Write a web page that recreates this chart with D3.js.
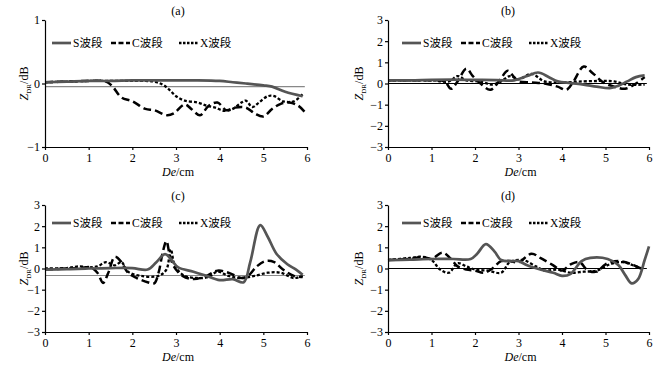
<html>
<head>
<meta charset="utf-8">
<script src="https://cdnjs.cloudflare.com/ajax/libs/d3/7.8.5/d3.min.js"></script>
<style>
body { margin: 0; background: #fff; }
text { font-family: "Liberation Serif", "Times New Roman", serif; fill: #000; }
.cjk { font-family: "Liberation Serif", "Noto Sans CJK SC", serif; }
</style>
</head>
<body>
<svg width="660" height="374"></svg>
<script>
// tick labels
var xTicks = [0, 1, 2, 3, 4, 5, 6];
var yTicksA = [-1, 0, 1];
var yTicksB = [-3, -2, -1, 0, 1, 2, 3];
var seriesNames = ["S波段", "C波段", "X波段"];
var panelTitles = ["(a)", "(b)", "(c)", "(d)"];
var refValues = [-0.05, 0, -0.33, 0];

// panel (a)
var sA = [[0,0.02],[0.5,0.03],[1,0.04],[1.5,0.04],[2,0.05],[2.5,0.05],[3,0.05],[3.5,0.05],[4,0.04],[4.3,0.02],[4.6,0.0],[5.0,-0.03],[5.2,-0.05],[5.5,-0.13],[5.9,-0.2]];
var cA = [[0,0.02],[0.5,0.03],[1,0.04],[1.4,0.03],[1.55,-0.05],[1.75,-0.22],[2.0,-0.28],[2.3,-0.4],[2.5,-0.42],[2.8,-0.5],[2.95,-0.47],[3.2,-0.33],[3.35,-0.4],[3.55,-0.5],[3.75,-0.35],[3.95,-0.3],[4.15,-0.42],[4.35,-0.38],[4.6,-0.38],[4.8,-0.47],[5.0,-0.52],[5.2,-0.4],[5.4,-0.32],[5.6,-0.3],[5.8,-0.35],[5.95,-0.45]];
var xA = [[0,0.02],[0.5,0.03],[1,0.04],[1.5,0.04],[2,0.04],[2.5,0.03],[2.7,-0.02],[2.85,-0.1],[3.0,-0.2],[3.2,-0.27],[3.5,-0.3],[3.7,-0.35],[3.9,-0.38],[4.1,-0.43],[4.3,-0.4],[4.5,-0.3],[4.6,-0.27],[4.75,-0.37],[4.9,-0.3],[5.1,-0.2],[5.25,-0.2],[5.45,-0.28],[5.7,-0.28],[5.9,-0.17]];

// panel (b)
var sB = [[0,0.15],[0.5,0.15],[1,0.17],[1.5,0.18],[2,0.17],[2.5,0.16],[2.9,0.15],[3.2,0.35],[3.45,0.52],[3.7,0.3],[3.9,0.1],[4.2,0.02],[4.5,-0.05],[4.8,-0.15],[5.1,-0.22],[5.3,-0.1],[5.5,0.1],[5.7,0.3],[5.9,0.38]];
var cB = [[0,0.15],[0.5,0.15],[1,0.15],[1.3,0.1],[1.45,-0.25],[1.6,0.1],[1.8,0.7],[1.95,0.35],[2.1,0.05],[2.35,-0.3],[2.55,0.1],[2.75,0.6],[2.9,0.3],[3.0,0.1],[3.3,0.05],[3.6,0.0],[3.9,-0.15],[4.1,-0.3],[4.25,0.05],[4.5,0.8],[4.7,0.5],[4.95,0.05],[5.2,-0.15],[5.45,-0.25],[5.7,0.0],[5.9,0.3]];
var xB = [[0,0.15],[0.5,0.15],[1,0.15],[1.4,0.1],[1.6,0.35],[1.8,0.15],[2.1,0.1],[2.4,-0.05],[2.6,0.1],[2.8,0.35],[3.0,0.2],[3.3,0.45],[3.6,0.1],[4.0,0.05],[4.5,0.1],[4.9,0.12],[5.2,0.1],[5.5,-0.05],[5.9,-0.05]];

// panel (c)
var sC = [[0,-0.05],[0.5,-0.03],[1,0.0],[1.5,0.02],[2,0.02],[2.35,-0.05],[2.55,0.3],[2.75,0.68],[2.9,0.4],[3.05,0.05],[3.4,-0.15],[3.7,-0.35],[4.0,-0.55],[4.3,-0.5],[4.55,-0.65],[4.7,0.3],[4.93,2.05],[5.1,1.5],[5.3,0.7],[5.55,0.2],[5.75,-0.05],[5.9,-0.3]];
var cC = [[0,-0.05],[0.5,0.0],[0.8,0.02],[1.05,0.05],[1.2,-0.2],[1.33,-0.68],[1.45,-0.2],[1.6,0.55],[1.75,0.3],[1.9,-0.2],[2.1,-0.45],[2.35,-0.65],[2.5,-0.7],[2.6,-0.2],[2.7,0.8],[2.78,1.3],[2.85,0.7],[2.95,0.1],[3.15,-0.35],[3.4,-0.5],[3.7,-0.35],[3.95,-0.1],[4.2,-0.2],[4.5,-0.45],[4.65,-0.35],[4.85,0.1],[5.05,0.35],[5.25,0.3],[5.45,-0.05],[5.7,-0.35],[5.9,-0.4]];
var xC = [[0,0.0],[0.5,0.02],[0.8,0.1],[1.0,0.05],[1.2,0.1],[1.4,0.3],[1.6,0.15],[1.75,0.3],[1.9,-0.15],[2.2,-0.35],[2.6,-0.35],[2.78,-0.05],[2.88,0.9],[2.98,0.1],[3.2,-0.35],[3.5,-0.45],[3.75,-0.4],[3.95,-0.15],[4.2,-0.35],[4.5,-0.45],[4.8,-0.35],[5.1,-0.2],[5.4,-0.2],[5.7,-0.45],[5.9,-0.35]];

// panel (d)
var sD = [[0,0.4],[0.5,0.42],[1,0.45],[1.5,0.45],[1.9,0.45],[2.05,0.7],[2.25,1.15],[2.45,0.8],[2.6,0.4],[2.85,0.35],[3.0,0.35],[3.2,0.15],[3.5,-0.05],[3.8,-0.2],[4.0,-0.35],[4.2,-0.25],[4.45,0.35],[4.65,0.5],[5.05,0.45],[5.3,0.15],[5.45,-0.3],[5.6,-0.7],[5.75,-0.5],[5.9,0.4],[6.0,1.05]];
var cD = [[0,0.4],[0.5,0.45],[0.8,0.55],[1.0,0.45],[1.25,0.75],[1.45,0.45],[1.6,0.1],[1.8,-0.05],[2.0,-0.1],[2.2,-0.2],[2.4,0.0],[2.6,0.35],[2.8,0.35],[3.0,0.3],[3.3,0.7],[3.5,0.5],[3.8,0.15],[4.0,-0.1],[4.2,0.2],[4.4,0.3],[4.6,-0.1],[4.8,-0.15],[5.0,0.2],[5.3,0.35],[5.6,0.2],[5.9,-0.1]];
var xD = [[0,0.4],[0.5,0.5],[0.8,0.55],[1.0,0.4],[1.2,-0.05],[1.4,-0.2],[1.6,0.25],[1.8,0.1],[2.0,-0.05],[2.3,-0.1],[2.6,-0.2],[2.8,0.3],[3.1,0.4],[3.4,0.1],[3.6,-0.1],[3.9,-0.05],[4.2,-0.2],[4.5,-0.15],[4.8,-0.1],[5.1,0.2],[5.4,0.3],[5.7,0.1],[5.9,-0.05]];

var panels = [
  {cx: 0,   left: 45,  top: 20,  right: 307, bottom: 147, yTicks: yTicksA, lines: [sA, cA, xA], ref: "#888"},
  {cx: 330, left: 388, top: 20,  right: 649, bottom: 147, yTicks: yTicksB, lines: [sB, cB, xB], ref: "#000"},
  {cx: 0,   left: 45,  top: 205, right: 307, bottom: 332, yTicks: yTicksB, lines: [sC, cC, xC], ref: "#888"},
  {cx: 330, left: 388, top: 205, right: 649, bottom: 332, yTicks: yTicksB, lines: [sD, cD, xD], ref: "#000"}
];

var styles = [
  {color: "#555", width: 2.7, dash: null, legendDash: null},
  {color: "#000", width: 2.5, dash: "8,4", legendDash: "5,2.5"},
  {color: "#000", width: 2.3, dash: "3,2", legendDash: "2.5,1.5"}
];

var svg = d3.select("svg");

panels.forEach(function(p, i) {
  var g = svg.append("g");
  var x = d3.scaleLinear().domain([0, 6]).range([p.left, p.right]);
  var y = d3.scaleLinear().domain(d3.extent(p.yTicks)).range([p.bottom, p.top]);

  // reference line
  g.append("line")
    .attr("x1", x(0)).attr("x2", x(5.95))
    .attr("y1", y(refValues[i])).attr("y2", y(refValues[i]))
    .attr("stroke", p.ref).attr("stroke-width", 1.2);

  var line = d3.line()
    .x(function(d) { return x(d[0]); })
    .y(function(d) { return y(d[1]); })
    .curve(d3.curveCatmullRom.alpha(0.5));

  // draw X first, then C, then S on top
  [2, 1, 0].forEach(function(k) {
    g.append("path")
      .datum(p.lines[k])
      .attr("d", line)
      .attr("fill", "none")
      .attr("stroke", styles[k].color)
      .attr("stroke-width", styles[k].width)
      .attr("stroke-dasharray", styles[k].dash);
  });

  // axes
  var ax = g.append("g").attr("transform", "translate(0," + p.bottom + ")")
    .call(d3.axisBottom(x).tickValues(xTicks).tickFormat(d3.format("d")).tickSize(3).tickPadding(3).tickSizeOuter(0));
  var ay = g.append("g").attr("transform", "translate(" + p.left + ",0)")
    .call(d3.axisLeft(y).tickValues(p.yTicks).tickFormat(d3.format("d")).tickSize(3).tickPadding(2).tickSizeOuter(0));
  [ax, ay].forEach(function(a) {
    a.selectAll("text").style("font-family", "Liberation Serif").style("font-size", "12px");
    a.selectAll("path, line").attr("stroke", "#000").attr("stroke-width", 1.2);
  });

  // title
  g.append("text").attr("x", p.cx + 178).attr("y", p.top - 5)
    .attr("text-anchor", "middle").style("font-size", "12px").text(panelTitles[i]);

  // x axis label
  var xl = g.append("text").attr("x", (p.left + p.right) / 2 + 2).attr("y", p.bottom + 29)
    .attr("text-anchor", "middle").style("font-size", "12px");
  xl.append("tspan").style("font-style", "italic").text("De");
  xl.append("tspan").text("/cm");

  // y axis label
  var yl = g.append("text")
    .attr("transform", "translate(" + (p.cx + (i % 2 ? 33 : 28)) + "," + ((p.top + p.bottom) / 2) + ") rotate(-90)")
    .attr("text-anchor", "middle").style("font-size", "12px");
  yl.append("tspan").style("font-style", "italic").text("Z");
  yl.append("tspan").attr("dy", 3).style("font-size", "7px").text("DR");
  yl.append("tspan").attr("dy", -3).text("/dB");

  // legend
  var lx = p.cx + (i % 2 ? 72 : 52);
  var ly = p.top + (i < 2 ? 23 : 18);
  var offs = [0, 59, 127];
  styles.forEach(function(s, k) {
    g.append("line")
      .attr("x1", lx + offs[k]).attr("x2", lx + offs[k] + 19)
      .attr("y1", ly).attr("y2", ly)
      .attr("stroke", s.color).attr("stroke-width", s.width)
      .attr("stroke-dasharray", s.legendDash);
    g.append("text").attr("class", "cjk")
      .attr("x", lx + offs[k] + 21).attr("y", ly + 4)
      .style("font-size", "11.5px").text(seriesNames[k]);
  });
});
</script>
</body>
</html>
